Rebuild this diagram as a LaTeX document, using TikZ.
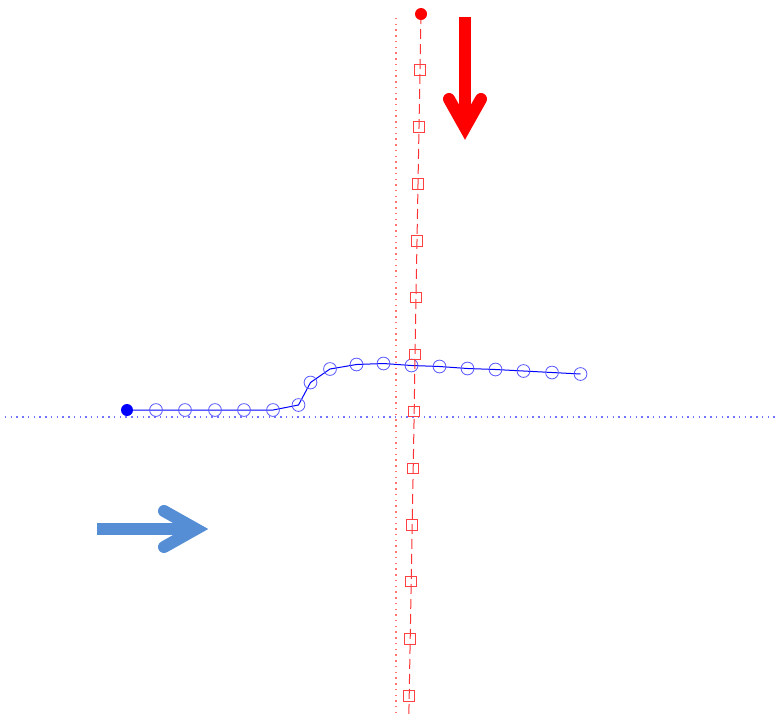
\documentclass[tikz,border=0pt]{standalone}
\usetikzlibrary{arrows.meta}
\definecolor{arrowblue}{RGB}{85,142,213}
\begin{document}
\begin{tikzpicture}[x=0.75pt,y=-0.75pt,
  bluemark/.style={draw=blue!65, circle, inner sep=0pt, minimum size=9.6pt, line width=0.6pt},
  redmark/.style={draw=red!75, rectangle, inner sep=0pt, minimum size=8pt, line width=0.6pt},
  bluestart/.style={fill=blue, circle, inner sep=0pt, minimum size=9pt},
  redstart/.style={fill=red, circle, inner sep=0pt, minimum size=9pt},
  bluepath/.style={draw=blue, line width=0.75pt},
  redpath/.style={draw=red!80, line width=0.75pt, dash pattern=on 7.5pt off 3.75pt},
  guideblue/.style={draw=blue!55, line width=0.9pt, dash pattern=on 1.1pt off 3.2pt},
  guidered/.style={draw=red!55, line width=0.9pt, dash pattern=on 1.1pt off 3.2pt},
  fatarrow/.style={line width=9pt, line cap=butt},
  fathead/.style={line width=9pt, line cap=round, line join=miter},
]
\useasboundingbox (0,0) rectangle (778,715);

% guide lines
\coordinate (hl) at (5,417);
\coordinate (hr) at (778,417);
\coordinate (vt) at (396,18);
\coordinate (vb) at (396,712);
\draw[guideblue] (hl) -- (hr);
\draw[guidered] (vt) -- (vb);

% blue trajectory
\foreach \i/\x/\y in {0/127/410, 1/156/410, 2/185/410, 3/215/410, 4/244/410, 5/273/410,
  6/298.5/405, 7/310.5/382.5, 8/330/369, 9/356.5/364.5, 10/383.5/363.5, 11/411.5/365.5,
  12/439.5/366.5, 13/467.5/368.5, 14/495.5/369.5, 15/523.5/371, 16/552/372.5, 17/580.5/374}
  \coordinate (bc\i) at (\x,\y);
\draw[bluepath] (bc0) \foreach \i in {1,...,17} { -- (bc\i) };
\node[bluestart] (b0) at (bc0) {};
\foreach \i in {1,...,17} \node[bluemark] (b\i) at (bc\i) {};

% red trajectory
\foreach \i/\x/\y in {0/421/14, 1/420/70, 2/419/127, 3/418/184, 4/417/241, 5/416/297.5,
  6/415/354.5, 7/414.2/411.5, 8/413.2/468.5, 9/412.2/525, 10/411.2/581.5, 11/410.2/639, 12/409.2/696}
  \coordinate (rc\i) at (\x,\y);
\coordinate (rend) at (408.8,716);
\draw[redpath] (rc0) \foreach \i in {1,...,12} { -- (rc\i) } -- (rend);
\node[redstart] (r0) at (rc0) {};
\foreach \i in {1,...,12} \node[redmark] (r\i) at (rc\i) {};

% red arrow
\coordinate (ra1) at (465,17);
\coordinate (ra2) at (465,124);
\coordinate (raL) at (449,99);
\coordinate (raT) at (465,127.5);
\coordinate (raR) at (481,99);
\draw[fatarrow, red] (ra1) -- (ra2);
\draw[fathead, red] (raL) -- (raT) -- (raR);

% blue arrow
\coordinate (ba1) at (97,529);
\coordinate (ba2) at (193,529);
\coordinate (baU) at (164,511);
\coordinate (baT) at (196,529);
\coordinate (baD) at (164,547);
\draw[fatarrow, arrowblue] (ba1) -- (ba2);
\draw[fathead, arrowblue] (baU) -- (baT) -- (baD);
\end{tikzpicture}
\end{document}
